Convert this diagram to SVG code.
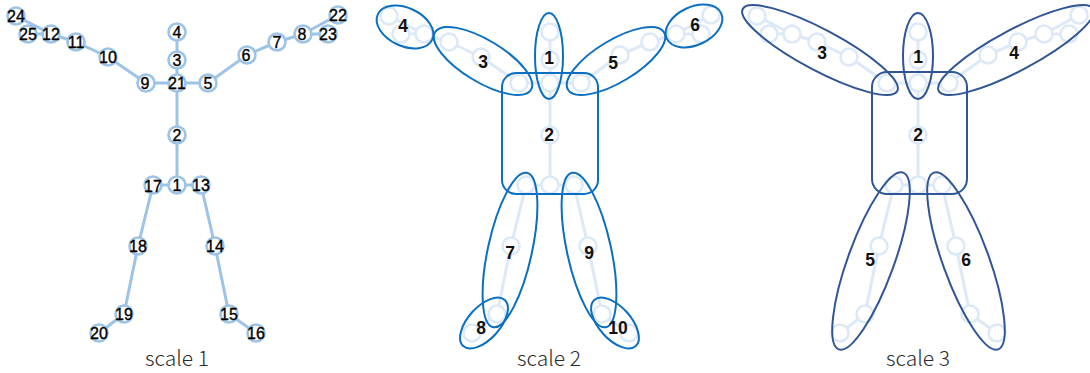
<svg xmlns="http://www.w3.org/2000/svg" xmlns:xlink="http://www.w3.org/1999/xlink" width="1090" height="373" viewBox="0 0 1090 373">
  <style>
    .bone { stroke-width: 3; stroke-linecap: round; }
    .joint { stroke-width: 2.6; }
    .num { font-family: "Liberation Sans", Arial, sans-serif; font-size: 16px; fill: #000; stroke: #000; stroke-width: 0.35; text-anchor: middle; dominant-baseline: central; }
    .part { font-family: "Liberation Sans", Arial, sans-serif; font-size: 17.5px; font-weight: bold; fill: #111; stroke: none; text-anchor: middle; dominant-baseline: central; }
    .caption { font-family: "Noto Sans CJK SC", "Liberation Sans", sans-serif; font-weight: 300; font-size: 21px; fill: #2a2a2a; text-anchor: middle; }
    .s2 { fill: none; stroke: #0a6fc2; stroke-width: 2; }
    .s3 { fill: none; stroke: #2f5597; stroke-width: 2; }
  </style>
  <defs>
    <!-- skeleton bones (25-joint body model) -->
    <g id="sk-edges">
      <line x1="16" y1="16" x2="51" y2="34"/>
      <line x1="28" y1="34" x2="51" y2="34"/>
      <line x1="51" y1="34" x2="76" y2="42"/>
      <line x1="76" y1="42" x2="108" y2="57"/>
      <line x1="108" y1="57" x2="146" y2="83"/>
      <line x1="146" y1="83" x2="177" y2="83"/>
      <line x1="177" y1="83" x2="208" y2="83"/>
      <line x1="208" y1="83" x2="247" y2="55"/>
      <line x1="247" y1="55" x2="277" y2="42"/>
      <line x1="277" y1="42" x2="303" y2="34"/>
      <line x1="303" y1="34" x2="338" y2="15"/>
      <line x1="303" y1="34" x2="328" y2="34"/>
      <line x1="177" y1="83" x2="177" y2="60"/>
      <line x1="177" y1="60" x2="177" y2="32"/>
      <line x1="177" y1="83" x2="177" y2="135"/>
      <line x1="177" y1="135" x2="177" y2="185"/>
      <line x1="177" y1="185" x2="153" y2="185"/>
      <line x1="177" y1="185" x2="201" y2="185"/>
      <line x1="153" y1="185" x2="138" y2="246"/>
      <line x1="138" y1="246" x2="124" y2="314"/>
      <line x1="124" y1="314" x2="99" y2="333"/>
      <line x1="201" y1="185" x2="215" y2="246"/>
      <line x1="215" y1="246" x2="229" y2="314"/>
      <line x1="229" y1="314" x2="256" y2="333"/>
    </g>
    <g id="sk-joints">
      <circle cx="177" cy="185" r="8.5"/>
      <circle cx="177" cy="135" r="8.5"/>
      <circle cx="177" cy="60" r="8.5"/>
      <circle cx="177" cy="32" r="8.5"/>
      <circle cx="208" cy="83" r="8.5"/>
      <circle cx="247" cy="55" r="8.5"/>
      <circle cx="277" cy="42" r="8.5"/>
      <circle cx="303" cy="34" r="8.5"/>
      <circle cx="146" cy="83" r="8.5"/>
      <circle cx="108" cy="57" r="8.5"/>
      <circle cx="76" cy="42" r="8.5"/>
      <circle cx="51" cy="34" r="8.5"/>
      <circle cx="201" cy="185" r="8.5"/>
      <circle cx="215" cy="246" r="8.5"/>
      <circle cx="229" cy="314" r="8.5"/>
      <circle cx="256" cy="333" r="8.5"/>
      <circle cx="153" cy="185" r="8.5"/>
      <circle cx="138" cy="246" r="8.5"/>
      <circle cx="124" cy="314" r="8.5"/>
      <circle cx="99" cy="333" r="8.5"/>
      <circle cx="177" cy="83" r="8.5"/>
      <circle cx="338" cy="15" r="8.5"/>
      <circle cx="328" cy="34" r="8.5"/>
      <circle cx="16" cy="16" r="8.5"/>
      <circle cx="28" cy="34" r="8.5"/>
    </g>
  </defs>

  <!-- scale 1: full skeleton with joint numbers -->
  <g id="connectors">
    <use xlink:href="#sk-edges" href="#sk-edges" class="bone" stroke="#9dc3e6"/>
  </g>
  <g id="joints-scale1" class="joint" stroke="#9dc3e6" fill="#fff">
    <g id="j1"><circle cx="177" cy="185" r="8.5"/><text class="num" x="177" y="185">1</text></g>
    <g id="j2"><circle cx="177" cy="135" r="8.5"/><text class="num" x="177" y="135">2</text></g>
    <g id="j3"><circle cx="177" cy="60" r="8.5"/><text class="num" x="177" y="60">3</text></g>
    <g id="j4"><circle cx="177" cy="32" r="8.5"/><text class="num" x="177" y="32">4</text></g>
    <g id="j5"><circle cx="208" cy="83" r="8.5"/><text class="num" x="208" y="83">5</text></g>
    <g id="j6"><circle cx="247" cy="55" r="8.5"/><text class="num" x="246" y="55">6</text></g>
    <g id="j7"><circle cx="277" cy="42" r="8.5"/><text class="num" x="277" y="42">7</text></g>
    <g id="j8"><circle cx="303" cy="34" r="8.5"/><text class="num" x="302" y="34">8</text></g>
    <g id="j9"><circle cx="146" cy="83" r="8.5"/><text class="num" x="145" y="83">9</text></g>
    <g id="j10"><circle cx="108" cy="57" r="8.5"/><text class="num" x="108" y="57">10</text></g>
    <g id="j11"><circle cx="76" cy="42" r="8.5"/><text class="num" x="76" y="42">11</text></g>
    <g id="j12"><circle cx="51" cy="34" r="8.5"/><text class="num" x="51" y="34">12</text></g>
    <g id="j13"><circle cx="201" cy="185" r="8.5"/><text class="num" x="201" y="185">13</text></g>
    <g id="j14"><circle cx="215" cy="246" r="8.5"/><text class="num" x="215" y="246">14</text></g>
    <g id="j15"><circle cx="229" cy="314" r="8.5"/><text class="num" x="229" y="314">15</text></g>
    <g id="j16"><circle cx="256" cy="333" r="8.5"/><text class="num" x="256" y="333">16</text></g>
    <g id="j17"><circle cx="153" cy="185" r="8.5"/><text class="num" x="153" y="186">17</text></g>
    <g id="j18"><circle cx="138" cy="246" r="8.5"/><text class="num" x="138" y="246">18</text></g>
    <g id="j19"><circle cx="124" cy="314" r="8.5"/><text class="num" x="124" y="314">19</text></g>
    <g id="j20"><circle cx="99" cy="333" r="8.5"/><text class="num" x="99" y="333">20</text></g>
    <g id="j21"><circle cx="177" cy="83" r="8.5"/><text class="num" x="177" y="83">21</text></g>
    <g id="j22"><circle cx="338" cy="15" r="8.5"/><text class="num" x="338" y="15">22</text></g>
    <g id="j23"><circle cx="328" cy="34" r="8.5"/><text class="num" x="328" y="34">23</text></g>
    <g id="j24"><circle cx="16" cy="16" r="8.5"/><text class="num" x="16" y="16">24</text></g>
    <g id="j25"><circle cx="28" cy="34" r="8.5"/><text class="num" x="28" y="34">25</text></g>
  </g>
  <text class="caption" x="177" y="366">scale 1</text>

  <!-- scale 2: faded skeleton grouped into 10 parts -->
  <g id="scale2" transform="translate(373,0)">
    <use xlink:href="#sk-edges" href="#sk-edges" class="bone" stroke="#dde9f6"/>
    <use xlink:href="#sk-joints" href="#sk-joints" class="joint" stroke="#dde9f6" fill="#fff"/>
  </g>
  <g id="parts-scale2">
    <g id="p2-1"><ellipse class="s2" cx="549" cy="56" rx="14" ry="43"/><text class="part" x="549" y="58">1</text></g>
    <g id="p2-2"><rect class="s2" x="502" y="73" width="96" height="121" rx="14"/><text class="part" x="549" y="135">2</text></g>
    <g id="p2-3"><ellipse class="s2" cx="483" cy="61" rx="56" ry="21" transform="rotate(31 483 61)"/><text class="part" x="483" y="62">3</text></g>
    <g id="p2-4"><ellipse class="s2" cx="405" cy="27" rx="30" ry="19" transform="rotate(25 405 27)"/><text class="part" x="403" y="26">4</text></g>
    <g id="p2-5"><ellipse class="s2" cx="616" cy="61" rx="56" ry="21" transform="rotate(-31 616 61)"/><text class="part" x="613" y="63">5</text></g>
    <g id="p2-6"><ellipse class="s2" cx="694" cy="26" rx="30" ry="19" transform="rotate(-25 694 26)"/><text class="part" x="695" y="25">6</text></g>
    <g id="p2-7"><ellipse class="s2" cx="510" cy="250" rx="22" ry="79" transform="rotate(12.4 510 250)"/><text class="part" x="510" y="253">7</text></g>
    <g id="p2-8"><ellipse class="s2" cx="484" cy="323" rx="31" ry="16" transform="rotate(-48 484 323)"/><text class="part" x="481" y="328">8</text></g>
    <g id="p2-9"><ellipse class="s2" cx="589" cy="250" rx="22" ry="79" transform="rotate(-12.4 589 250)"/><text class="part" x="589" y="253">9</text></g>
    <g id="p2-10"><ellipse class="s2" cx="615" cy="323" rx="31" ry="16" transform="rotate(48 615 323)"/><text class="part" x="618" y="328">10</text></g>
  </g>
  <text class="caption" x="549" y="366">scale 2</text>

  <!-- scale 3: faded skeleton grouped into 6 parts -->
  <g id="scale3" transform="translate(741,0)">
    <use xlink:href="#sk-edges" href="#sk-edges" class="bone" stroke="#dde9f6"/>
    <use xlink:href="#sk-joints" href="#sk-joints" class="joint" stroke="#dde9f6" fill="#fff"/>
  </g>
  <g id="parts-scale3">
    <g id="p3-1"><ellipse class="s3" cx="918" cy="56" rx="15" ry="43"/><text class="part" x="918" y="57">1</text></g>
    <g id="p3-2"><rect class="s3" x="872" y="72" width="95" height="122" rx="15"/><text class="part" x="918" y="135">2</text></g>
    <g id="p3-3"><ellipse class="s3" cx="820" cy="50" rx="87.5" ry="20.5" transform="rotate(28 820 50)"/><text class="part" x="822" y="53">3</text></g>
    <g id="p3-4"><ellipse class="s3" cx="1016" cy="50" rx="87.5" ry="20.5" transform="rotate(-28 1016 50)"/><text class="part" x="1014" y="53">4</text></g>
    <g id="p3-5"><ellipse class="s3" cx="871" cy="261" rx="23" ry="94" transform="rotate(20 871 261)"/><text class="part" x="870" y="260">5</text></g>
    <g id="p3-6"><ellipse class="s3" cx="966" cy="261" rx="23" ry="94" transform="rotate(-20 966 261)"/><text class="part" x="966" y="260">6</text></g>
  </g>
  <text class="caption" x="918" y="366">scale 3</text>
</svg>
